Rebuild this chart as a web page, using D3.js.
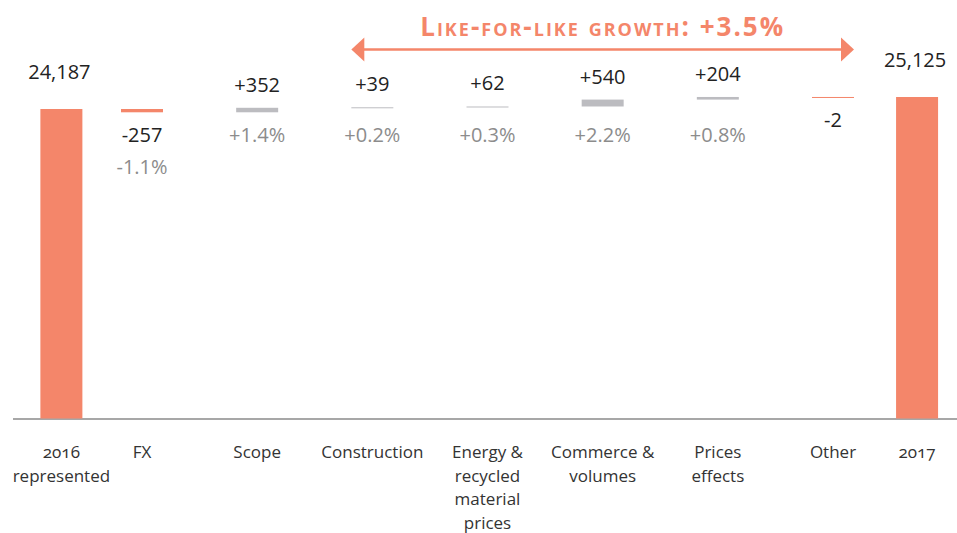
<!DOCTYPE html>
<html>
<head>
<meta charset="utf-8">
<script src="https://cdn.jsdelivr.net/npm/d3@7"></script>
<style>
  body { margin: 0; background: #fff; }
  text { font-family: "Open Sans", sans-serif; }
</style>
</head>
<body>
<div id="chart"></div>
<script>
// chart data
var categories = ["2016 represented", "FX", "Scope", "Construction",
  "Energy & recycled material prices", "Commerce & volumes", "Prices effects", "Other", "2017"];
var categoryLines = [["2016", "represented"], ["FX"], ["Scope"], ["Construction"],
  ["Energy &", "recycled", "material", "prices"], ["Commerce &", "volumes"], ["Prices", "effects"], ["Other"], ["2017"]];
var kinds = ["total", "delta", "delta", "delta", "delta", "delta", "delta", "delta", "total"];
var values = [24187, -257, 352, 39, 62, 540, 204, -2, 25125];
var valueLabels = ["24,187", "-257", "+352", "+39", "+62", "+540", "+204", "-2", "25,125"];
var pctLabels = ["", "-1.1%", "+1.4%", "+0.2%", "+0.3%", "+2.2%", "+0.8%", "", ""];
var lflLabel = "Like-for-like growth: +3.5%";
var lflFrom = "Construction", lflTo = "Other";

// dimensions
var width = 957, height = 533;
var barW = 42;
var orange = "#f4866a", grey = "#bcbcc0";

// slot positions: end totals sit closer to their neighbours
var slots = [0.3, 1, 2, 3, 4, 5, 6, 7, 7.73];
var xSlot = d3.scaleLinear().domain([1, 7]).range([142, 833]);
var x = d3.scaleOrdinal().domain(categories).range(slots.map(xSlot));

var y = d3.scaleLinear().domain([0, 25125]).range([418.5, 97]);

// running totals
var data = [];
var run = 0;
categories.forEach(function (c, i) {
    var d = {cat: c, kind: kinds[i], value: values[i], label: valueLabels[i], pct: pctLabels[i], lines: categoryLines[i]};
    if (d.kind === "total") {
        d.start = 0; d.end = d.value; run = d.value;
    } else {
        d.start = run; d.end = run + d.value; run = d.end;
    }
    data.push(d);
});

var svg = d3.select("#chart")
    .append("svg")
    .attr("width", width)
    .attr("height", height);

// baseline
svg.append("line")
    .attr("x1", 13).attr("x2", width)
    .attr("y1", y(0) + 0.5).attr("y2", y(0) + 0.5)
    .attr("stroke", "#8a8a8a")
    .attr("stroke-width", 1.6);

// bars
svg.selectAll("rect.bar")
    .data(data)
    .enter().append("rect")
    .attr("class", "bar")
    .attr("x", function (d) { return x(d.cat) - barW / 2; })
    .attr("width", barW)
    .attr("y", function (d) { return y(Math.max(d.start, d.end)); })
    .attr("height", function (d) { return Math.max(1, Math.abs(y(d.start) - y(d.end))); })
    .attr("fill", function (d) {
        if (d.kind === "total" || d.value < 0) return orange;
        return grey;
    });

// value labels
svg.selectAll("text.val")
    .data(data)
    .enter().append("text")
    .attr("class", "val")
    .attr("x", function (d) { return x(d.cat) + (d.kind === "total" ? -2 : 0); })
    .attr("y", function (d) {
        if (d.kind === "total") return y(d.end) - 30;
        if (d.value < 0) return y(Math.min(d.start, d.end)) + 30;
        return y(d.end) - 16;
    })
    .attr("text-anchor", "middle")
    .attr("font-size", 20)
    .attr("fill", "#222")
    .text(function (d) { return d.label; });

// percentage labels
var pctRow = y(values[0]) + 33;
svg.selectAll("text.pct")
    .data(data.filter(function (d) { return d.pct !== ""; }))
    .enter().append("text")
    .attr("class", "pct")
    .attr("x", function (d) { return x(d.cat); })
    .attr("y", function (d) {
        if (d.value < 0) return y(Math.min(d.start, d.end)) + 62;
        return pctRow;
    })
    .attr("text-anchor", "middle")
    .attr("font-size", 20)
    .attr("fill", "#8c8c8c")
    .text(function (d) { return d.pct; });

// category labels
var catG = svg.selectAll("text.cat")
    .data(data)
    .enter().append("text")
    .attr("class", "cat")
    .attr("text-anchor", "middle")
    .attr("font-size", 17)
    .attr("fill", "#333")
    .style("font-variant-numeric", "oldstyle-nums");

catG.selectAll("tspan")
    .data(function (d) { return d.lines.map(function (l) { return {cat: d.cat, t: l}; }); })
    .enter().append("tspan")
    .attr("x", function (d) { return x(d.cat); })
    .attr("y", function (d, i) { return 458 + i * 23.5; })
    .text(function (d) { return d.t; });

// like-for-like arrow
var ax1 = x(lflFrom) - barW / 2, ax2 = x(lflTo) + barW / 2, ay = 49.5;
var head = 13, hh = 12;
svg.append("line")
    .attr("x1", ax1 + head - 1).attr("x2", ax2 - head + 1)
    .attr("y1", ay).attr("y2", ay)
    .attr("stroke", orange)
    .attr("stroke-width", 2.6);
svg.append("path")
    .attr("d", "M" + ax1 + "," + ay + "L" + (ax1 + head) + "," + (ay - hh) + "L" + (ax1 + head) + "," + (ay + hh) + "Z")
    .attr("fill", orange);
svg.append("path")
    .attr("d", "M" + ax2 + "," + ay + "L" + (ax2 - head) + "," + (ay - hh) + "L" + (ax2 - head) + "," + (ay + hh) + "Z")
    .attr("fill", orange);

svg.append("text")
    .attr("x", (ax1 + ax2) / 2)
    .attr("y", 36)
    .attr("text-anchor", "middle")
    .attr("font-size", 26)
    .attr("font-weight", "bold")
    .attr("letter-spacing", 2)
    .style("font-variant", "small-caps")
    .attr("fill", orange)
    .text(lflLabel);
</script>
</body>
</html>
